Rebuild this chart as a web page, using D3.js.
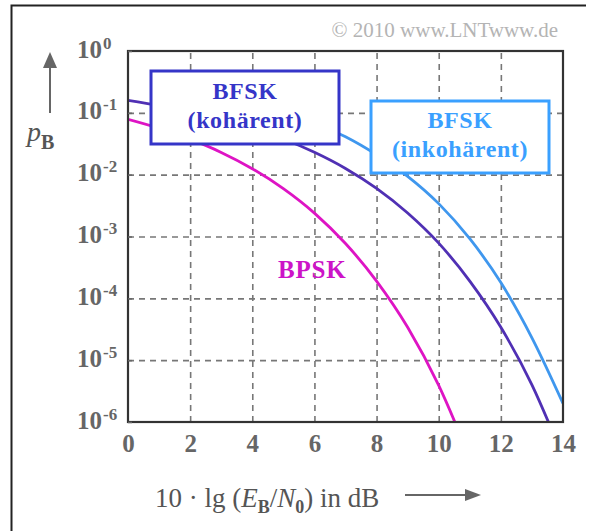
<!DOCTYPE html>
<html>
<head>
<meta charset="utf-8">
<script src="https://cdn.jsdelivr.net/npm/d3@7"></script>
<style>
body { margin: 0; background: #fff; }
svg { display: block; }
text { font-family: "Liberation Serif", "Times New Roman", serif; }
</style>
</head>
<body>
<div id="chart"></div>
<script>
// Eb/N0 in dB, and the bit error probability
const snrDb = [0, 1, 2, 3, 4, 5, 6, 7, 8, 9, 10, 11, 12, 13, 14];
const bpsk = [0.0786, 0.0563, 0.0375, 0.0229, 0.0125, 0.00595, 0.00239, 0.00077, 0.00019, 0.000034, 0.0000039, 0.00000026, null, null, null];
const bfskCoherent = [0.159, 0.131, 0.104, 0.0789, 0.0565, 0.0377, 0.023, 0.0126, 0.006, 0.0024, 0.00078, 0.00019, 0.000034, 0.000004, 0.00000027];
const bfskIncoherent = [null, 0.266, 0.226, 0.184, 0.142, 0.103, 0.068, 0.041, 0.021, 0.0094, 0.0034, 0.00092, 0.00018, 0.000023, 0.000002];

const xTicks = [0, 2, 4, 6, 8, 10, 12, 14];
const yExponents = [0, -1, -2, -3, -4, -5, -6];

const width = 591, height = 531;
const plot = {left: 128, top: 51, right: 563, bottom: 422};

const svg = d3.select("#chart").append("svg")
	.attr("width", width)
	.attr("height", height);

// outer frame (only left and top edges are in the picture)
svg.append("path")
	.attr("d", "M11.5,531 V5.5 H586")
	.attr("fill", "none")
	.attr("stroke", "#222")
	.attr("stroke-width", 2);

svg.append("text")
	.attr("x", 558)
	.attr("y", 37)
	.attr("text-anchor", "end")
	.attr("font-size", 21)
	.attr("fill", "#b4b4b4")
	.text("\u00a9 2010 www.LNTwww.de");

// scales
const xScale = d3.scaleLinear().domain([0, 14]).range([plot.left, plot.right]);
const yScale = d3.scaleLog().domain([1e-6, 1]).range([plot.bottom, plot.top]);

// grid
const gridX = svg.append("g")
	.attr("transform", `translate(0, ${plot.bottom})`)
	.call(d3.axisBottom(xScale).tickValues([2, 4, 6, 8, 10, 12]).tickSize(-(plot.bottom - plot.top)).tickFormat(""));
const gridY = svg.append("g")
	.attr("transform", `translate(${plot.left}, 0)`)
	.call(d3.axisLeft(yScale).tickValues([1e-1, 1e-2, 1e-3, 1e-4, 1e-5]).tickSize(-(plot.right - plot.left)).tickFormat(""));
[gridX, gridY].forEach(g => {
	g.select(".domain").remove();
	g.selectAll("line")
		.attr("stroke", "#777")
		.attr("stroke-width", 1.6)
		.attr("stroke-dasharray", "6,5");
});

// curves
svg.append("clipPath").attr("id", "plotClip")
	.append("rect")
	.attr("x", plot.left).attr("y", plot.top)
	.attr("width", plot.right - plot.left).attr("height", plot.bottom - plot.top);

const line = d3.line()
	.defined(d => d[1] != null)
	.x(d => xScale(d[0]))
	.y(d => yScale(d[1]))
	.curve(d3.curveMonotoneX);

const series = [
	{values: bfskIncoherent, color: "#3f97ee"},
	{values: bfskCoherent, color: "#5030b4"},
	{values: bpsk, color: "#de14c4"}
];

svg.append("g")
	.attr("clip-path", "url(#plotClip)")
	.selectAll("path")
	.data(series)
	.enter()
	.append("path")
	.attr("d", s => line(snrDb.map((x, i) => [x, s.values[i]])))
	.attr("fill", "none")
	.attr("stroke", s => s.color)
	.attr("stroke-width", 2.8);

// plot frame
svg.append("rect")
	.attr("x", plot.left).attr("y", plot.top)
	.attr("width", plot.right - plot.left).attr("height", plot.bottom - plot.top)
	.attr("fill", "none")
	.attr("stroke", "#333")
	.attr("stroke-width", 2.2);

// labelled boxes
const boxes = [
	{x0: 151, y0: 71, x1: 339, y1: 144, color: "#3535c8", lines: ["BFSK", "(koh\u00e4rent)"], base: [99, 128]},
	{x0: 371, y0: 101, x1: 549, y1: 173, color: "#3aa0ff", lines: ["BFSK", "(inkoh\u00e4rent)"], base: [128, 157]}
];
boxes.forEach(b => {
	svg.append("rect")
		.attr("x", b.x0).attr("y", b.y0)
		.attr("width", b.x1 - b.x0).attr("height", b.y1 - b.y0)
		.attr("fill", "#fff")
		.attr("stroke", b.color)
		.attr("stroke-width", 3);
	b.lines.forEach((t, i) => {
		svg.append("text")
			.attr("x", (b.x0 + b.x1) / 2)
			.attr("y", b.base[i])
			.attr("text-anchor", "middle")
			.attr("font-size", 24)
			.attr("font-weight", "bold")
			.attr("letter-spacing", 0.6)
			.attr("fill", b.color)
			.text(t);
	});
});

svg.append("text")
	.attr("x", 278)
	.attr("y", 278)
	.attr("font-size", 25)
	.attr("font-weight", "bold")
	.attr("letter-spacing", 0.8)
	.attr("fill", "#cc14c8")
	.text("BPSK");

// x axis labels
const xAxisG = svg.append("g")
	.attr("transform", `translate(0, ${plot.bottom})`)
	.call(d3.axisBottom(xScale).tickValues(xTicks).tickSize(0).tickPadding(12).tickFormat(d3.format("d")));
xAxisG.select(".domain").remove();
xAxisG.selectAll("text")
	.attr("font-family", "Liberation Serif, serif")
	.attr("font-size", 25)
	.attr("font-weight", "bold")
	.attr("fill", "#666")
	.attr("dy", null)
	.attr("y", 30);

// y axis labels: 10 with superscript exponent
const yAxisG = svg.append("g")
	.attr("transform", `translate(${plot.left}, 0)`)
	.call(d3.axisLeft(yScale).tickValues(yExponents.map(e => Math.pow(10, e))).tickSize(-4).tickFormat(""));
yAxisG.select(".domain").remove();
yAxisG.selectAll("line").attr("stroke", "#666").attr("stroke-width", 1.5);
yAxisG.selectAll(".tick").each(function(d) {
	const exp = Math.round(Math.log10(d));
	const t = d3.select(this).select("text")
		.attr("x", -51)
		.attr("y", 6)
		.attr("dy", null)
		.attr("text-anchor", "start")
		.attr("font-family", "Liberation Serif, serif")
		.attr("font-weight", "bold")
		.attr("fill", "#666")
		.text(null);
	t.append("tspan").attr("font-size", 25).text("10");
	t.append("tspan").attr("font-size", 17).attr("dx", 1).attr("dy", -9).text(exp === 0 ? "0" : "-" + Math.abs(exp));
});

// axis titles and arrows
svg.append("line")
	.attr("x1", 50).attr("y1", 113).attr("x2", 50).attr("y2", 64)
	.attr("stroke", "#666").attr("stroke-width", 2);
svg.append("path")
	.attr("d", "M50,52 L43,68 L57,68 Z")
	.attr("fill", "#666");

const pLabel = svg.append("text")
	.attr("x", 27)
	.attr("y", 141)
	.attr("fill", "#555");
pLabel.append("tspan").attr("font-size", 28).attr("font-style", "italic").text("p");
pLabel.append("tspan").attr("font-size", 20).attr("font-weight", "bold").attr("dy", 8).text("B");

const xLabel = svg.append("text")
	.attr("x", 155)
	.attr("y", 507)
	.attr("font-size", 27)
	.attr("fill", "#555");
xLabel.append("tspan").text("10 \u00b7 lg (");
xLabel.append("tspan").attr("font-style", "italic").text("E");
xLabel.append("tspan").attr("font-size", 18).attr("font-weight", "bold").attr("dy", 6).text("B");
xLabel.append("tspan").attr("dy", -6).text("/");
xLabel.append("tspan").attr("font-style", "italic").text("N");
xLabel.append("tspan").attr("font-size", 18).attr("font-weight", "bold").attr("dy", 6).text("0");
xLabel.append("tspan").attr("dy", -6).text(") in dB");

svg.append("line")
	.attr("x1", 405).attr("y1", 495).attr("x2", 468).attr("y2", 495)
	.attr("stroke", "#666").attr("stroke-width", 2);
svg.append("path")
	.attr("d", "M481,495 L465,489 L465,501 Z")
	.attr("fill", "#666");
</script>
</body>
</html>
